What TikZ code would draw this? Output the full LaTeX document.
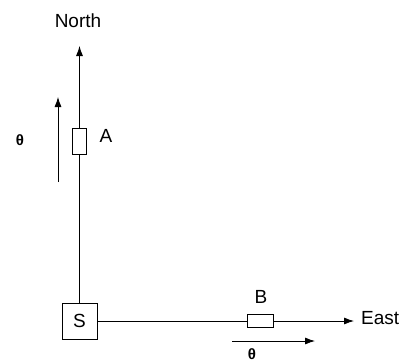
\documentclass[tikz,border=0pt]{standalone}
\usepackage{fontspec}
\setmainfont{Liberation Sans}
\usetikzlibrary{arrows.meta}
\begin{document}
\begin{tikzpicture}[x=1pt, y=-1pt, font=\fontsize{19}{22}\selectfont,
        element/.style={rectangle, draw, fill=white, inner sep=0pt, line width=0.8pt},
        wire/.style={line width=0.8pt},
        pointer/.style={line width=0.8pt, -{Latex[length=10pt, width=7pt]}},
        angle/.style={inner sep=0pt, font=\fontsize{15}{17}\selectfont\bfseries}]
        \useasboundingbox (0,0) rectangle (407,362);

        \node[element, minimum width=35pt, minimum height=36pt] (s) at (79.5,321) {S};
        \node[element, minimum width=14pt, minimum height=26pt] (a) at (79.5,141) {};
        \node[element, minimum width=26pt, minimum height=13pt] (b) at (260,321) {};
        \coordinate (n) at (79.5,46);
        \coordinate (e) at (354,321);
        \node (north) at (78,21) {North};
        \node[anchor=west, inner sep=2pt] (east) at (359,318) {East};
        \node (la) at (106,136) {A};
        \node (lb) at (261,297) {B};

        \draw[wire] (s) -- (b);
        \draw[wire] (s) -- (a);
        \draw[pointer] (a) -- (n);
        \draw[pointer] (b) -- (e);

        \coordinate (p1) at (58,182);
        \coordinate (p2) at (58,97);
        \coordinate (q1) at (232,341);
        \coordinate (q2) at (315,341);
        \draw[pointer] (p1) -- (p2);
        \draw[pointer] (q1) -- (q2);
        \node[angle] (ta) at (20,140) {θ};
        \node[angle] (tb) at (252,354) {θ};
    \end{tikzpicture}
\end{document}
